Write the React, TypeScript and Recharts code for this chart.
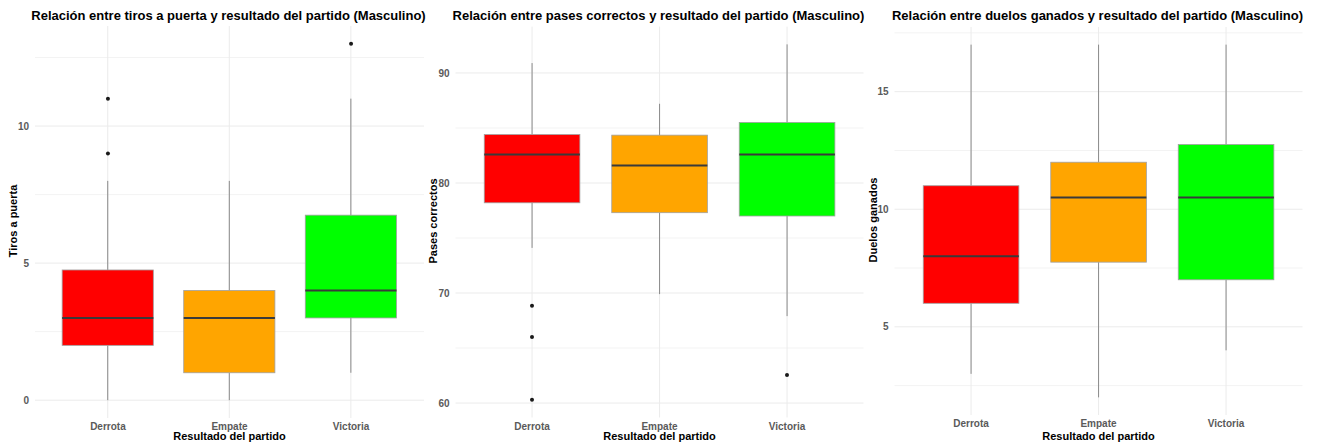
import React from "react";
import { ComposedChart, Bar, Scatter, XAxis, YAxis, CartesianGrid } from "recharts";

const categories = ["Derrota", "Empate", "Victoria"];
const fills = ["#ff0000", "#ffa500", "#00ff00"];

// Tiros a puerta
const tirosMin = [0, 0, 1];
const tirosQ1 = [2, 1, 3];
const tirosMedian = [3, 3, 4];
const tirosQ3 = [4.75, 4, 6.75];
const tirosMax = [8, 8, 11];
const tirosOutliers = [[9, 11], [], [13]];
const tirosTicks = [0, 5, 10];
const tirosMinorTicks = [2.5, 7.5, 12.5];

// Pases correctos
const pasesMin = [74.1, 69.9, 67.9];
const pasesQ1 = [78.2, 77.3, 77.0];
const pasesMedian = [82.6, 81.6, 82.6];
const pasesQ3 = [84.4, 84.35, 85.5];
const pasesMax = [90.9, 87.2, 92.6];
const pasesOutliers = [[68.85, 66.0, 60.3], [], [62.55]];
const pasesTicks = [60, 70, 80, 90];
const pasesMinorTicks = [65, 75, 85];

// Duelos ganados
const duelosMin = [3, 2, 4];
const duelosQ1 = [6, 7.75, 7];
const duelosMedian = [8, 10.5, 10.5];
const duelosQ3 = [11, 12, 12.75];
const duelosMax = [17, 17, 17];
const duelosOutliers: number[][] = [[], [], []];
const duelosTicks = [5, 10, 15];
const duelosMinorTicks = [2.5, 7.5, 12.5, 17.5];

const FONT = '"Liberation Sans", Arial, sans-serif';

type Row = { cat: string; min: number; q1: number; median: number; q3: number; max: number };

function buildRows(min: number[], q1: number[], med: number[], q3: number[], max: number[]): Row[] {
  return categories.map((cat, i) => ({ cat, min: min[i], q1: q1[i], median: med[i], q3: q3[i], max: max[i] }));
}

function buildPoints(outliers: number[][]) {
  return outliers.flatMap((vals, i) => vals.map((v) => ({ cat: categories[i], v })));
}

// ggplot-style range: data extent plus 5% on each side
function expandedDomain(min: number[], max: number[], outliers: number[][]): [number, number] {
  const all = [...min, ...max, ...outliers.flat()];
  const lo = Math.min(...all);
  const hi = Math.max(...all);
  const pad = (hi - lo) * 0.05;
  return [lo - pad, hi + pad];
}

// bar background slot -> one vertical grid line through the category centre
function CenterGridLine(props: any) {
  const { x, y, width, height } = props;
  const cx = x + width / 2;
  return <line x1={cx} x2={cx} y1={y} y2={y + height} stroke="#ebebeb" strokeWidth={1} />;
}

function BoxShape(props: any) {
  const { x, y, width, height, payload, index } = props;
  const ppu = height / (payload.q3 - payload.q1);
  const py = (v: number) => y + (payload.q3 - v) * ppu;
  const cx = x + width / 2;
  return (
    <g>
      <line x1={cx} x2={cx} y1={py(payload.max)} y2={y} stroke="#8a8a8a" strokeWidth={1} />
      <line x1={cx} x2={cx} y1={y + height} y2={py(payload.min)} stroke="#8a8a8a" strokeWidth={1} />
      <rect x={x} y={y} width={width} height={height} fill={fills[index]} stroke="#a0a0a0" strokeWidth={0.8} />
      <line x1={x} x2={x + width} y1={py(payload.median)} y2={py(payload.median)} stroke="#3a3a3a" strokeWidth={2} />
    </g>
  );
}

type PanelProps = {
  left: number;
  width: number;
  yAxisWidth: number;
  right: number;
  top: number;
  bottom: number;
  title: string;
  yLabel: string;
  rows: Row[];
  points: { cat: string; v: number }[];
  domain: [number, number];
  ticks: number[];
  minorTicks: number[];
};

function Panel(p: PanelProps) {
  const plotW = p.width - p.yAxisWidth - p.right;
  const pad = plotW / 32;
  const band = (plotW - 2 * pad) / 3;
  const plotCenter = p.left + p.yAxisWidth + plotW / 2;
  const plotMid = (p.top + (446 - p.bottom)) / 2;
  return (
    <>
      <div
        style={{
          position: "absolute",
          left: plotCenter - 1 - 300,
          width: 600,
          top: 8,
          textAlign: "center",
          fontFamily: FONT,
          fontWeight: "bold",
          fontSize: 13,
          color: "#000",
          whiteSpace: "nowrap",
        }}
      >
        {p.title}
      </div>
      <div
        style={{
          position: "absolute",
          left: p.left + 13 - 150,
          width: 300,
          top: plotMid - 7,
          textAlign: "center",
          transform: "rotate(-90deg)",
          fontFamily: FONT,
          fontWeight: "bold",
          fontSize: 11,
          color: "#000",
        }}
      >
        {p.yLabel}
      </div>
      <div
        style={{
          position: "absolute",
          left: plotCenter - 150,
          width: 300,
          top: 430,
          textAlign: "center",
          fontFamily: FONT,
          fontWeight: "bold",
          fontSize: 11,
          color: "#000",
        }}
      >
        Resultado del partido
      </div>
      <div style={{ position: "absolute", left: p.left, top: 0 }}>
        <ComposedChart
          width={p.width}
          height={446}
          data={p.rows}
          margin={{ top: p.top, right: p.right, bottom: p.bottom - 28, left: 0 }}
        >
          <CartesianGrid vertical={false} horizontalValues={p.minorTicks} stroke="#f3f3f3" strokeWidth={1} />
          <CartesianGrid vertical={false} horizontalValues={p.ticks} stroke="#ebebeb" strokeWidth={1} />
          <XAxis
            dataKey="cat"
            type="category"
            allowDuplicatedCategory={false}
            padding={{ left: pad, right: pad }}
            axisLine={false}
            tickLine={false}
            tickSize={0}
            tickMargin={5}
            height={28}
            tick={{ fontSize: 10, fontFamily: FONT, fontWeight: "bold", fill: "#5a5a5a" }}
          />
          <YAxis
            type="number"
            domain={p.domain}
            ticks={p.ticks}
            allowDataOverflow
            width={p.yAxisWidth}
            axisLine={false}
            tickLine={false}
            tickSize={0}
            tickMargin={6}
            tick={{ fontSize: 10, fontFamily: FONT, fontWeight: "bold", fill: "#5a5a5a" }}
          />
          <Bar
            dataKey={(d: Row) => [d.q1, d.q3]}
            barSize={band * 0.75}
            background={<CenterGridLine />}
            shape={<BoxShape />}
            isAnimationActive={false}
          />
          <Scatter
            data={p.points}
            dataKey="v"
            isAnimationActive={false}
            shape={(s: any) => <circle cx={s.cx} cy={s.cy} r={2} fill="#1a1a1a" />}
          />
        </ComposedChart>
      </div>
    </>
  );
}

export default function App() {
  const tirosDomain = expandedDomain(tirosMin, tirosMax, tirosOutliers);
  const pasesDomain = expandedDomain(pasesMin, pasesMax, pasesOutliers);
  const duelosDomain = expandedDomain(duelosMin, duelosMax, duelosOutliers);
  return (
    <div style={{ position: "absolute", left: 0, top: 0, width: 1317, height: 446, background: "#fff", overflow: "hidden" }}>
      <Panel
        left={0}
        width={440}
        yAxisWidth={35}
        right={16}
        top={26}
        bottom={28}
        title="Relación entre tiros a puerta y resultado del partido (Masculino)"
        yLabel="Tiros a puerta"
        rows={buildRows(tirosMin, tirosQ1, tirosMedian, tirosQ3, tirosMax)}
        points={buildPoints(tirosOutliers)}
        domain={tirosDomain}
        ticks={tirosTicks}
        minorTicks={tirosMinorTicks}
      />
      <Panel
        left={420}
        width={450}
        yAxisWidth={35.5}
        right={6.5}
        top={26.6}
        bottom={28.5}
        title="Relación entre pases correctos y resultado del partido (Masculino)"
        yLabel="Pases correctos"
        rows={buildRows(pasesMin, pasesQ1, pasesMedian, pasesQ3, pasesMax)}
        points={buildPoints(pasesOutliers)}
        domain={pasesDomain}
        ticks={pasesTicks}
        minorTicks={pasesMinorTicks}
      />
      <Panel
        left={860}
        width={457}
        yAxisWidth={34.5}
        right={14.5}
        top={27}
        bottom={31}
        title="Relación entre duelos ganados y resultado del partido (Masculino)"
        yLabel="Duelos ganados"
        rows={buildRows(duelosMin, duelosQ1, duelosMedian, duelosQ3, duelosMax)}
        points={buildPoints(duelosOutliers)}
        domain={duelosDomain}
        ticks={duelosTicks}
        minorTicks={duelosMinorTicks}
      />
    </div>
  );
}
